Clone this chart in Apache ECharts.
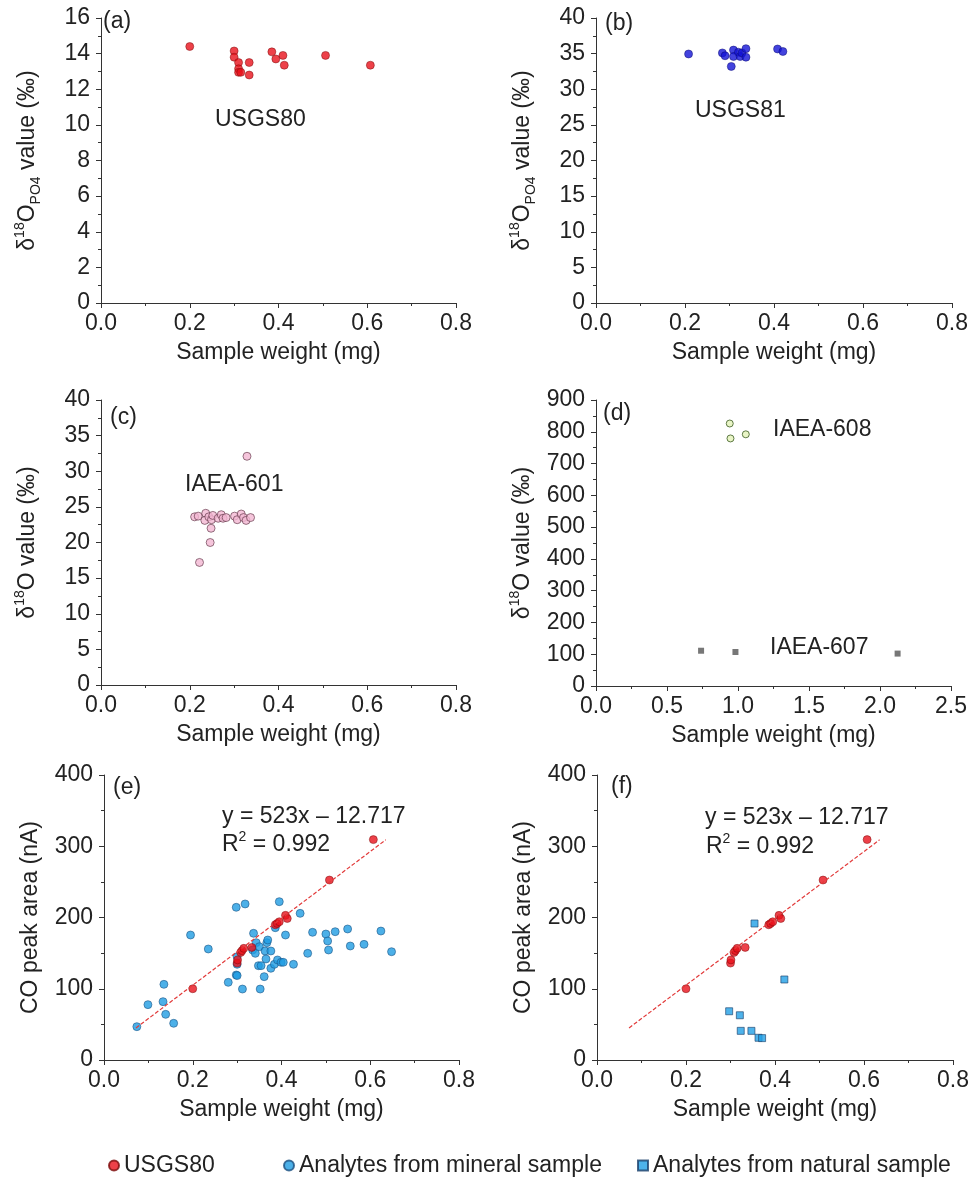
<!DOCTYPE html>
<html>
<head>
<meta charset="utf-8">
<script src="https://cdn.jsdelivr.net/npm/echarts@6/dist/echarts.min.js"></script>
<style>
  html, body { margin: 0; padding: 0; background: #fff; }
  #main { width: 970px; height: 1189px; }
</style>
</head>
<body>
<div id="main"></div>
<script>
  // (a) USGS80: d18O(PO4) vs sample weight
  var usgs80Weight = [0.20, 0.30, 0.30, 0.31, 0.31, 0.31, 0.315, 0.334, 0.334, 0.385, 0.394, 0.41, 0.413, 0.506, 0.607];
  var usgs80Delta = [14.4, 14.15, 13.8, 13.5, 13.15, 12.95, 12.95, 13.5, 12.8, 14.1, 13.7, 13.9, 13.35, 13.9, 13.35];

  // (b) USGS81
  var usgs81Weight = [0.208, 0.284, 0.29, 0.304, 0.309, 0.309, 0.32, 0.324, 0.328, 0.337, 0.337, 0.408, 0.42];
  var usgs81Delta = [34.95, 35.1, 34.7, 33.2, 35.5, 34.6, 35.2, 34.6, 35.1, 35.7, 34.5, 35.65, 35.3];

  // (c) IAEA-601
  var iaea601Weight = [0.211, 0.219, 0.236, 0.234, 0.243, 0.249, 0.252, 0.264, 0.271, 0.275, 0.282, 0.301, 0.307, 0.316, 0.321, 0.327, 0.337, 0.248, 0.246, 0.222, 0.329];
  var iaea601Delta = [23.6, 23.7, 24.1, 23.1, 23.6, 23.2, 23.8, 23.4, 23.9, 23.4, 23.5, 23.7, 23.2, 24.0, 23.5, 23.1, 23.5, 22.0, 20.0, 17.2, 32.1];

  // (d) IAEA-608 and IAEA-607
  var iaea608Weight = [0.942, 0.947, 1.055];
  var iaea608Delta = [826, 779, 792];
  var iaea607Weight = [0.74, 0.982, 2.124];
  var iaea607Delta = [111, 107, 102];

  // (e)/(f) CO peak area
  var usgs80AreaWeight = [0.2, 0.3, 0.301, 0.308, 0.311, 0.315, 0.333, 0.386, 0.39, 0.395, 0.409, 0.413, 0.508, 0.607];
  var usgs80Area = [100, 136, 140.5, 151, 153.5, 156.7, 158, 189.8, 191.6, 194, 203, 198.6, 252.6, 309.3];

  var mineralWeight = [0.074, 0.099, 0.133, 0.135, 0.139, 0.157, 0.195, 0.235, 0.280, 0.298, 0.298, 0.300, 0.300, 0.312, 0.318,
    0.335, 0.337, 0.341, 0.343, 0.348, 0.350, 0.352, 0.354, 0.361, 0.363, 0.365, 0.367, 0.369, 0.376, 0.376, 0.384, 0.386,
    0.391, 0.395, 0.399, 0.404, 0.409, 0.427, 0.442, 0.459, 0.470, 0.500, 0.504, 0.506, 0.521, 0.549, 0.555, 0.586, 0.624, 0.648, 0.300];
  var mineralArea = [46.8, 77.7, 81.9, 106.2, 64.1, 51.5, 175.4, 155.8, 109, 214.3, 119.3, 134.3, 145, 99.6, 219,
    154.4, 177.8, 149.7, 164.7, 132.4, 159, 99.6, 132.4, 117, 153, 141.8, 164.7, 168.4, 153, 128.7, 134.3, 185.7,
    140.4, 222.2, 137.1, 137.1, 175.4, 134.3, 205.8, 149.7, 179.2, 176.8, 167, 154.4, 180.1, 183.9, 160, 162.3, 181, 152, 118.5];

  var naturalWeight = [0.354, 0.421, 0.297, 0.321, 0.323, 0.347, 0.363, 0.371];
  var naturalArea = [191.6, 113, 68.4, 62.8, 40.9, 40.9, 31.2, 30.7];

  // dashed regression line as drawn
  var fitWeight = [0.072, 0.635];
  var fitArea = [45, 309];

  function zip(xs, ys) {
    var out = [];
    for (var i = 0; i < xs.length; i++) out.push([xs[i], ys[i]]);
    return out;
  }

  var FONT = '"Liberation Sans", Arial, sans-serif';
  var TXT = '#222';
  var richSS = {
    sup: { fontSize: 14, lineHeight: 16, verticalAlign: 'top', fontFamily: FONT, color: TXT },
    sub: { fontSize: 14, lineHeight: 16, verticalAlign: 'bottom', fontFamily: FONT, color: TXT }
  };

  function xAxis(gi, max, interval) {
    return {
      type: 'value', gridIndex: gi, min: 0, max: max, interval: interval,
      name: 'Sample weight (mg)', nameLocation: 'middle', nameGap: 38,
      nameTextStyle: { fontSize: 23, color: TXT, fontFamily: FONT },
      axisLine: { onZero: false, lineStyle: { color: '#333', width: 1 } },
      axisTick: { length: 5, lineStyle: { color: '#333' } },
      minorTick: { show: true, splitNumber: 2, length: 3, lineStyle: { color: '#333' } },
      splitLine: { show: false },
      axisLabel: { fontSize: 23, color: TXT, fontFamily: FONT, margin: 9,
        formatter: function (v) { return v.toFixed(1); } }
    };
  }

  function yAxis(gi, max, interval, name) {
    return {
      type: 'value', gridIndex: gi, min: 0, max: max, interval: interval,
      name: name, nameLocation: 'middle', nameGap: 58,
      nameTextStyle: { fontSize: 23, lineHeight: 30, color: TXT, fontFamily: FONT, rich: richSS },
      axisLine: { show: true, onZero: false, lineStyle: { color: '#333', width: 1 } },
      axisTick: { show: true, length: 5, lineStyle: { color: '#333' } },
      minorTick: { show: true, splitNumber: 2, length: 3, lineStyle: { color: '#333' } },
      splitLine: { show: false },
      axisLabel: { fontSize: 23, color: TXT, fontFamily: FONT, margin: 11 }
    };
  }

  function label(text, left, top) {
    return {
      text: text, left: left, top: top, padding: 0,
      textStyle: { fontSize: 23, fontWeight: 'normal', color: TXT, fontFamily: FONT, lineHeight: 30, rich: richSS }
    };
  }

  function legendItem(name, left, icon) {
    return {
      data: [name], left: left, top: 1149, icon: icon, itemWidth: 10, itemHeight: 10, selectedMode: false,
      textStyle: { fontSize: 23, color: TXT, fontFamily: FONT }
    };
  }

  var nameP = 'δ{sup|18}O{sub|PO4} value (‰)';
  var nameO = 'δ{sup|18}O value (‰)';
  var nameCO = 'CO peak area (nA)';

  var redStyle = { color: '#e8121b', borderColor: '#7a0a0a', borderWidth: 0.6 };
  var mineralStyle = { color: '#1f9ce2', borderColor: '#1a4f80', borderWidth: 0.7 };
  var naturalStyle = { color: '#22a0e6', borderColor: '#1a3f6a', borderWidth: 0.8 };

  var option = {
    animation: false,
    backgroundColor: '#fff',
    textStyle: { fontFamily: FONT },
    grid: [
      { left: 101, top: 18, width: 355, height: 285, outerBoundsMode: 'none' },
      { left: 596, top: 18, width: 356, height: 285, outerBoundsMode: 'none' },
      { left: 101, top: 400, width: 355, height: 285, outerBoundsMode: 'none' },
      { left: 596, top: 400, width: 355, height: 286, outerBoundsMode: 'none' },
      { left: 104, top: 775, width: 355, height: 285, outerBoundsMode: 'none' },
      { left: 597, top: 775, width: 356, height: 285, outerBoundsMode: 'none' }
    ],
    xAxis: [
      xAxis(0, 0.8, 0.2), xAxis(1, 0.8, 0.2), xAxis(2, 0.8, 0.2),
      xAxis(3, 2.5, 0.5), xAxis(4, 0.8, 0.2), xAxis(5, 0.8, 0.2)
    ],
    yAxis: [
      yAxis(0, 16, 2, nameP), yAxis(1, 40, 5, nameP), yAxis(2, 40, 5, nameO),
      yAxis(3, 900, 100, nameO), yAxis(4, 400, 100, nameCO), yAxis(5, 400, 100, nameCO)
    ],
    title: [
      label('(a)', 103, 7), label('(b)', 605, 9), label('(c)', 110, 403),
      label('(d)', 603, 399), label('(e)', 113, 773), label('(f)', 611, 772),
      label('USGS80', 215, 105), label('USGS81', 695, 96), label('IAEA-601', 185, 470),
      label('IAEA-608', 773, 415), label('IAEA-607', 770, 633),
      label('y = 523x – 12.717', 222, 802), label('R{sup|2} = 0.992', 222, 830),
      label('y = 523x – 12.717', 705, 803), label('R{sup|2} = 0.992', 706, 832)
    ],
    legend: [
      legendItem('USGS80', 103, 'circle'),
      legendItem('Analytes from mineral sample', 278, 'circle'),
      legendItem('Analytes from natural sample', 632, 'rect')
    ],
    series: [
      { name: 'USGS80', type: 'scatter', xAxisIndex: 0, yAxisIndex: 0, symbolSize: 8,
        itemStyle: redStyle, data: zip(usgs80Weight, usgs80Delta) },
      { name: 'USGS81', type: 'scatter', xAxisIndex: 1, yAxisIndex: 1, symbolSize: 8,
        itemStyle: { color: '#1414d6', borderColor: '#0a0a70', borderWidth: 0.6 }, data: zip(usgs81Weight, usgs81Delta) },
      { name: 'IAEA-601', type: 'scatter', xAxisIndex: 2, yAxisIndex: 2, symbolSize: 8,
        itemStyle: { color: '#f2b6d2', borderColor: '#5a3040', borderWidth: 0.8 }, data: zip(iaea601Weight, iaea601Delta) },
      { name: 'IAEA-608', type: 'scatter', xAxisIndex: 3, yAxisIndex: 3, symbolSize: 7,
        itemStyle: { color: '#e4f2b8', borderColor: '#3a5a20', borderWidth: 1 }, data: zip(iaea608Weight, iaea608Delta) },
      { name: 'IAEA-607', type: 'scatter', xAxisIndex: 3, yAxisIndex: 3, symbol: 'rect', symbolSize: 6,
        itemStyle: { color: '#555' }, data: zip(iaea607Weight, iaea607Delta) },

      { name: 'fit-e', type: 'line', xAxisIndex: 4, yAxisIndex: 4, symbol: 'none', silent: true,
        lineStyle: { color: '#e23a3a', width: 1.2, type: [4, 2] }, data: zip(fitWeight, fitArea) },
      { name: 'Analytes from mineral sample', type: 'scatter', xAxisIndex: 4, yAxisIndex: 4, symbolSize: 8,
        itemStyle: mineralStyle, data: zip(mineralWeight, mineralArea) },
      { name: 'USGS80', type: 'scatter', xAxisIndex: 4, yAxisIndex: 4, symbolSize: 8,
        itemStyle: redStyle, data: zip(usgs80AreaWeight, usgs80Area) },

      { name: 'fit-f', type: 'line', xAxisIndex: 5, yAxisIndex: 5, symbol: 'none', silent: true,
        lineStyle: { color: '#e23a3a', width: 1.2, type: [4, 2] }, data: zip(fitWeight, fitArea) },
      { name: 'Analytes from natural sample', type: 'scatter', xAxisIndex: 5, yAxisIndex: 5, symbol: 'rect', symbolSize: 7,
        itemStyle: naturalStyle, data: zip(naturalWeight, naturalArea) },
      { name: 'USGS80', type: 'scatter', xAxisIndex: 5, yAxisIndex: 5, symbolSize: 8,
        itemStyle: redStyle, data: zip(usgs80AreaWeight, usgs80Area) }
    ]
  };

  var chart = echarts.init(document.getElementById('main'));
  chart.setOption(option);
</script>
</body>
</html>
